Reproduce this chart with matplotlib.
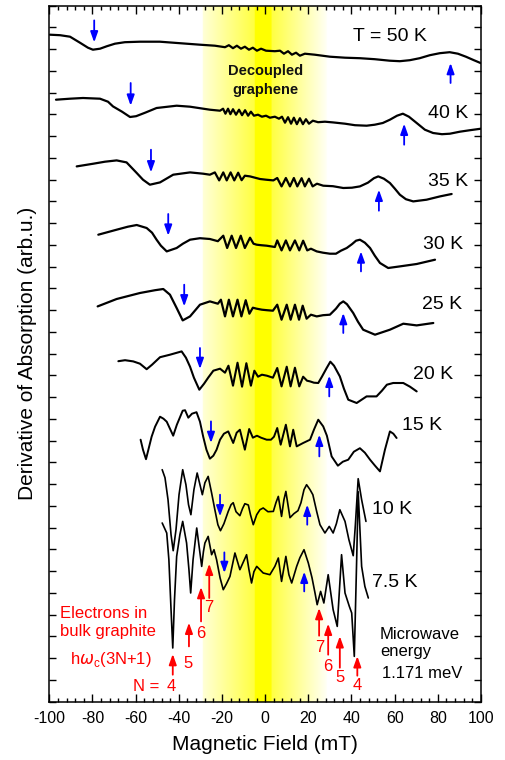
import numpy as np
import matplotlib
matplotlib.use('Agg')
import matplotlib.pyplot as plt
from matplotlib.ticker import MultipleLocator
from matplotlib.patches import ArrowStyle

plt.rcParams['font.family'] = ['Liberation Sans', 'DejaVu Sans']
plt.rcParams['axes.unicode_minus'] = False

# ---- spectra: field (mT) and derivative signal (arb.u., curves offset) ----
field_50K = [-99.7, -95.0, -90.4, -85.8, -82.1, -79.8, -76.5, -73.3, -69.6, -65.0, -58.0, -48.8, -39.5, -30.2, -23.3,
             -18.6, -16.8, -14.9, -13.1, -11.2, -9.4, -7.5, -5.7, -3.8, -1.9, 0.4, 4.5, 6.9, 8.7, 10.6, 12.4, 14.3,
             16.1, 18.4, 23.0, 30.0, 37.0, 43.9, 50.8, 57.7, 62.4, 67.0, 71.6, 76.3, 80.9, 85.5, 89.3, 93.0, 96.7, 100]
sig_50K = [667, 666.5, 665, 659, 654, 652, 653, 655.5, 658, 659.5, 660, 660, 658.5, 657, 656,
           654.5, 656.5, 653.5, 656, 653, 655, 652, 654, 651, 653, 651, 650.5, 651, 648, 650.5, 647, 649,
           646, 648, 647, 645, 644, 643.5, 642.5, 641, 640.5, 641.5, 643.5, 646.5, 648.5, 649.5, 648, 645, 641.5, 638.5]

field_40K = [-96.9, -90.4, -84.4, -76.5, -72.8, -70.5, -66.3, -62.6, -59.8, -55.6, -50.3, -41.0, -34.8, -30.2, -25.6, -20.9,
             -19.5, -18.4, -17.2, -16.1, -14.9, -13.5, -12.1, -10.7, -9.3, -7.9, -6.6, -5.2,
             -3.3, -1.5, 0.4, 2.2, 4.5, 6.4,
             7.8, 9.2, 10.6, 12.0, 13.3, 14.7, 16.1, 17.5, 18.9, 20.3, 22.1, 24.5, 27.7, 31.4, 37.0, 41.6, 47.0,
             50.8, 54.5, 57.8, 61.1, 63.8, 66.6, 70.2, 74.0, 77.8, 81.9, 85.6, 90.2, 94.9, 100]
sig_40K = [602, 603, 603.7, 603, 600, 595.3, 590, 584.7, 585.5, 589, 593.7, 596, 595, 593.5, 592, 591,
           593, 588, 593, 587.5, 592.5, 587, 592, 586.5, 591.5, 586, 590, 586,
           587, 585, 586, 584, 585, 583,
           585, 579, 584.5, 578, 584, 577.5, 583.5, 577.5, 582.5, 578, 581, 579.5, 580, 579.3, 578, 576.5, 576,
           577, 578.7, 582, 586, 588, 585, 578.7, 572, 568.7, 567.5, 568, 570, 571.5, 573]

field_35K = [-87.3, -79.6, -74.2, -68.8, -64.2, -59.5, -56.6, -53.4, -48.7, -42.6, -34.8, -28.7, -25.6,
             -23.3, -21.3, -19.4, -17.8, -16.0, -14.3, -12.5, -10.9, -9.4,
             -7.0, -4.7, -2.4, 0.4, 3.8,
             5.6, 7.6, 9.6, 11.5, 13.3, 14.9, 16.9, 18.4, 20.3, 22.0, 24.0,
             26.9, 31.4, 36.2, 40.2, 43.9, 47.6, 50.4, 52.4, 55.0, 57.8, 60.1, 62.4, 65.2, 68.6, 74.8, 81.0, 86.4]
sig_35K = [535.3, 538, 540, 541.3, 539.3, 528.7, 522, 517, 519.3, 527, 529.3, 528, 527,
           529.3, 521.3, 529.3, 521.3, 529.3, 521.3, 529, 521.5, 526,
           525.3, 524, 522.7, 522, 521.3,
           523.7, 515.3, 523.7, 515.3, 523.7, 515.3, 523.5, 515.3, 523, 515.3, 518,
           516, 515.5, 513.7, 514, 515.3, 519, 523.5, 525.3, 523, 518.7, 513, 507, 502.5, 500.3, 502, 505.3, 507.7]

field_30K = [-77.3, -68.8, -63.6, -59.5, -54.9, -52.4, -50.3, -48.3, -45.6, -41.0, -38.1, -34.8, -30.2, -25.6, -21.9,
             -19.4, -17.6, -15.5, -13.5, -11.3, -9.4, -7.0, -5.4,
             -3.9, -1.9, 0.7, 2.2, 4.5,
             5.6, 7.6, 9.6, 11.5, 13.8, 15.8, 17.6, 19.5, 21.2,
             23.9, 26.8, 30.0, 32.8, 35.1, 37.8, 40.2, 42.1, 43.9, 46.2, 48.6, 50.8, 53.2, 57.0, 62.4, 70.2, 78.7]
sig_30K = [467, 472, 475, 476.7, 473.7, 469, 462, 456, 450.3, 453.7, 458, 462, 463.5, 462.7, 460.5,
           466, 453.7, 466, 453.7, 466, 453.7, 464, 458,
           457, 456.5, 456, 455.5, 454.7,
           461.3, 451.3, 461.3, 451.3, 461.3, 451.3, 461, 451.3, 453,
           450.3, 449, 448, 448, 451, 453.7, 457.5, 461, 462, 459, 453.7, 446, 438.7, 433.7, 435.3, 437.7, 442]

field_25K = [-77.6, -68.8, -58.0, -51.0, -47.2, -44.1, -41.0, -38.2, -34.8, -30.2, -25.6, -21.9,
             -20.5, -18.6, -16.8, -14.9, -12.8, -11.0, -9.0, -7.3, -5.7,
             -3.9, -1.5, 0.8, 3.6,
             5.6, 7.6, 10.0, 11.8, 13.8, 15.7, 17.4, 19.2, 21.2,
             23.9, 26.8, 30.0, 32.8, 34.6, 36.2, 37.9, 40.8, 43.0, 45.4, 50.9, 57.8, 64.0, 70.2, 77.9]
sig_25K = [395.3, 402.7, 408.7, 411.5, 412.7, 407, 393.7, 381.3, 385.3, 397, 400.3, 398,
           402, 385.3, 402, 385.3, 402, 385.3, 401.5, 388, 394,
           393, 392, 391.5, 391,
           397, 382, 397, 382, 397, 382, 396, 383, 387,
           385.3, 386.5, 387, 393, 398, 400.3, 397.5, 388.7, 380, 372, 367, 372, 378, 376.3, 378.7]

field_20K = [-68.0, -64.9, -61.1, -58.0, -54.9, -52.4, -48.7, -44.1, -38.7, -36.7, -34.8, -33.0, -30.5, -28.3, -26.4,
             -24.0, -20.9,
             -18.6, -17.0, -14.9, -12.8, -10.7, -8.7, -6.6, -5.0, -3.3,
             -1.5, 0.8, 3.6,
             5.6, 7.6, 10.0, 11.8, 13.8, 15.8, 17.6, 19.4, 20.8, 22.6, 24.6, 26.3, 28.5, 30.2, 31.9, 34.6, 36.5,
             38.5, 42.4, 47.0, 51.6, 54.1, 56.4, 59.3, 64.0, 67.1, 70.2]
sig_20K = [340.5, 341.5, 340.3, 338, 332.5, 337, 344.5, 347, 350.3, 344, 335, 324, 312, 318, 324,
           331, 333,
           329, 336, 316, 339, 315, 338.5, 316, 331, 325,
           327, 326, 324,
           333.7, 315.3, 335, 315.3, 334, 315.3, 325, 321, 320.3, 319, 318.7, 325, 333.7, 340, 336, 325.3, 313,
           302, 298.7, 305.3, 305.3, 311, 317, 318.7, 318.7, 315, 310.3]

field_15K = [-57.7, -56.6, -55.2, -54.1, -52.6, -51.0, -48.7, -47.1, -45.6, -44.1, -42.6, -40.9, -38.2, -37.1, -35.6,
             -33.9, -31.8, -30.2, -28.7, -27.2, -25.6, -24.0, -22.5, -20.9, -19.1, -17.1, -14.8, -13.2, -11.7, -9.4,
             -7.4, -5.7, -3.8, -1.9, 0.7, 2.7, 4.1, 5.6, 7.2, 9.6, 11.5, 13.0, 14.6, 17.6, 20.8, 22.6, 24.6, 26.9,
             28.6, 30.8, 33.7, 36.0, 38.5, 41.1, 43.9, 46.2, 48.6, 50.9, 53.2, 55.5, 57.8, 59.4, 60.9]
sig_15K = [262, 252, 242.5, 252, 265, 275, 285, 283, 280, 273, 266, 277, 291, 291.5, 284,
           288, 289.5, 280, 265, 252, 243, 246, 252, 262, 268, 270.3, 258.7, 269, 272, 252,
           272.7, 264, 266, 264, 262, 262, 265, 273.7, 257, 277, 255.3, 272, 255.3, 258.7, 262, 272, 282, 275.3,
           266, 245.3, 236, 240, 242, 250, 253.5, 249, 242, 236, 230.3, 252, 270.3, 268, 263.7]

field_10K = [-47.7, -46.4, -45.0, -43.6, -42.6, -41.3, -39.9, -38.2, -36.7, -35.5, -34.4, -33.0, -31.5, -30.2, -29.1,
             -27.9, -26.4, -24.8, -23.3, -21.9, -20.7, -19.1, -17.1, -15.8, -14.8, -13.5, -11.7, -10.5, -9.4, -7.8,
             -6.8, -5.5, -3.9, -2.4, -0.9, 1.3, 3.8, 5.0, 6.1, 7.6, 8.7, 9.6, 11.5, 13.3, 15.2, 16.6, 18.0, 19.2,
             20.8, 22.1, 23.9, 25.4, 27.7, 29.7, 31.5, 33.0, 34.6, 37.0, 38.8, 40.8, 41.8, 43.1, 44.7, 45.8, 46.7]
sig_10K = [232, 224, 202, 167, 151, 172, 207, 232, 217, 197, 187, 212, 228.7, 217, 207,
           219, 225.3, 208.7, 192, 177, 171, 178, 190.3, 197, 199, 190, 186, 193, 198, 196.7,
           187, 177, 187, 192, 193.7, 190, 190.3, 199, 205.3, 185.3, 202, 210.3, 184, 188, 191, 199, 212, 217,
           212, 207, 190, 177, 168.7, 175.3, 168.7, 178, 192, 180.3, 162, 146, 177, 223, 202, 190, 180.3]

field_7K5 = [-47.7, -45.6, -44.6, -43.6, -42.8, -42.0, -41.0, -39.5, -38.2, -36.4, -35.3, -34.5, -33.4, -31.7, -30.7,
             -29.4, -28.6, -27.9, -26.4, -24.8, -23.7, -22.5, -20.9, -19.4, -17.9, -16.3, -14.0, -11.7, -8.6, -7.5,
             -6.3, -5.2, -3.9, -2.4, -0.9, 2.2, 4.5, 6.1, 7.6, 9.6, 11.0, 12.3, 14.6, 16.1, 18.0, 20.0, 21.7, 23.1,
             24.1, 25.7, 27.2, 29.2, 31.5, 33.4, 35.4, 37.0, 39.0, 40.1, 41.3, 42.4, 43.1, 44.7, 46.2, 47.8]
sig_7K5 = [178.7, 168.7, 142, 92, 53.7, 102, 145.3, 167, 180.3, 158.7, 132, 108.7, 142, 173.7, 157,
           135.3, 150, 158.7, 165.3, 147, 152, 142, 124, 112, 118, 125.3, 148.7, 132, 147, 132,
           118.7, 130, 135.3, 132, 128.7, 127, 135.3, 143.7, 120.3, 145.3, 127, 118.7, 135.3, 144, 152, 138.7, 124, 108.7,
           97, 110.3, 98.7, 127, 92, 75.3, 147, 108.7, 95.3, 88.7, 45.3, 142, 210, 135.3, 115.3, 103.7]

temps = ['T = 50 K', '40 K', '35 K', '30 K', '25 K', '20 K', '15 K', '10 K', '7.5 K']
fields = [field_50K, field_40K, field_35K, field_30K, field_25K, field_20K, field_15K, field_10K, field_7K5]
signals = [sig_50K, sig_40K, sig_35K, sig_30K, sig_25K, sig_20K, sig_15K, sig_10K, sig_7K5]
label_x = [40.7, 75.5, 75.5, 72.9, 72.5, 68.6, 63.2, 49.3, 49.3]
label_y = [665.3, 587.7, 520.3, 457, 397, 327, 276, 192, 119.3]

# blue arrows: field, tail, head  (graphite resonance markers)
down_x = [-79.2, -62.3, -52.9, -44.9, -37.5, -30.2, -25.1, -20.9, -18.9]
down_tail = [681.3, 618.7, 552, 487.7, 417, 353.7, 280.3, 207, 149.3]
down_head = [659.3, 596, 529.3, 466, 395.3, 332.7, 258.7, 185.3, 128.7]
up_x = [85.9, 64.4, 52.7, 44.4, 36.2, 29.7, 25.1, 19.5, 18.1]
up_tail = [618.7, 557, 491, 430.3, 368.7, 305.3, 245.3, 177, 110.3]
up_head = [638.7, 578, 512, 450.3, 388.7, 326, 267, 197, 130]

# red arrows: Landau level index N of bulk graphite electrons
n_index = ['4', '5', '6', '7', '7', '6', '5', '4']
n_x = [-42.8, -35.3, -29.7, -25.9, 25.0, 29.2, 34.6, 42.7]
n_tail = [27, 55.3, 80.3, 103.7, 66, 47, 34, 26]
n_tip = [47.7, 79, 114.7, 138, 93.7, 78, 65.5, 45.5]
n_lab_x = [-43.3, -35.6, -30.0, -25.9, 25.1, 29.2, 34.6, 42.7]
n_lab_y = [15.3, 38.7, 68.7, 93.7, 53.7, 35.3, 24.7, 15.7]

fig = plt.figure(figsize=(5.06, 7.6), dpi=100)
ax = fig.add_axes([49.3 / 506, 58.3 / 760, 431.7 / 506, 696 / 760])

# yellow gradient band of decoupled graphene
bx = np.linspace(-30, 30, 1201)
blue = np.full(bx.shape, 255.0)
e_l, e_r, s_l, s_r = -28.7, 28.5, -4.7, 3.0
m = (bx >= e_l) & (bx < s_l)
blue[m] = 215 - 150 * (bx[m] - e_l) / (s_l - e_l)
m = (bx > s_r) & (bx <= e_r)
blue[m] = 245 - 180 * (e_r - bx[m]) / (e_r - s_r)
blue[(bx >= s_l) & (bx <= s_r)] = 0
img = np.stack([np.ones_like(bx), np.ones_like(bx), blue / 255.0], axis=-1)[None, :, :]
ax.imshow(img, extent=(-30, 30, 0, 696), aspect='auto', zorder=0, interpolation='bilinear')

lws = [1.6, 1.6, 1.6, 1.6, 1.6, 1.5, 1.4, 1.2, 1.2]
for f, s, lw in zip(fields, signals, lws):
    ax.plot(f, s, color='black', lw=lw, zorder=3, solid_joinstyle='round', solid_capstyle='round')

for t, lx, ly in zip(temps, label_x, label_y):
    ax.text(lx, ly, t, fontsize=14, ha='left', va='center', zorder=4)

ast = ArrowStyle('-|>', head_length=0.7, head_width=0.25)


def arrow(x, y0, y1, color):
    ax.annotate('', xy=(x, y1), xytext=(x, y0),
                arrowprops=dict(arrowstyle=ast, color=color, lw=1.3, mutation_scale=9,
                                shrinkA=0, shrinkB=0), zorder=5)


for x, a, b in zip(down_x, down_tail, down_head):
    arrow(x, a, b, 'blue')
for x, a, b in zip(up_x, up_tail, up_head):
    arrow(x, a, b, 'blue')
for x, a, b in zip(n_x, n_tail, n_tip):
    arrow(x, a, b, 'red')
for t, x, y in zip(n_index, n_lab_x, n_lab_y):
    ax.text(x, y, t, color='red', fontsize=12, ha='center', va='center')

ax.text(-49.1, 15.3, 'N =', color='red', fontsize=12, ha='right', va='center')
ax.text(-95.0, 88.7, 'Electrons in', color='red', fontsize=12, ha='left', va='center')
ax.text(-95.0, 70.3, 'bulk graphite', color='red', fontsize=12, ha='left', va='center')
ax.text(-71.7, 42, r'h$\omega_{\mathregular{c}}$(3N+1)', color='red', fontsize=12, ha='center', va='center')

ax.text(53.1, 67, 'Microwave', fontsize=12, ha='left', va='center')
ax.text(53.1, 50.3, 'energy', fontsize=12, ha='left', va='center')
ax.text(54.0, 28.7, '1.171 meV', fontsize=12, ha='left', va='center')

ax.text(0.3, 630.3, 'Decoupled', fontsize=10.5, fontweight='bold', ha='center', va='center', color='#111111')
ax.text(0.3, 611.3, 'graphene', fontsize=10.5, fontweight='bold', ha='center', va='center', color='#111111')

ax.set_xlim(-100, 100)
ax.set_ylim(0, 696)
ax.xaxis.set_major_locator(MultipleLocator(20))
ax.xaxis.set_minor_locator(MultipleLocator(4))
ax.set_yticks(np.arange(0, 697, 21.75))
ax.set_yticklabels([])
ax.tick_params(axis='x', which='major', direction='in', length=6, width=1, top=True, labelsize=11.5, pad=7)
ax.tick_params(axis='x', which='minor', direction='in', length=3, width=1, top=True)
ax.tick_params(axis='y', direction='in', length=5, width=1, right=True)
for sp in ax.spines.values():
    sp.set_linewidth(1.1)

ax.set_xlabel('Magnetic Field (mT)', fontsize=15, labelpad=6)
ax.set_ylabel('Derivative of Absorption (arb.u.)', fontsize=15, labelpad=5)

fig.savefig('out.png', dpi=100)
